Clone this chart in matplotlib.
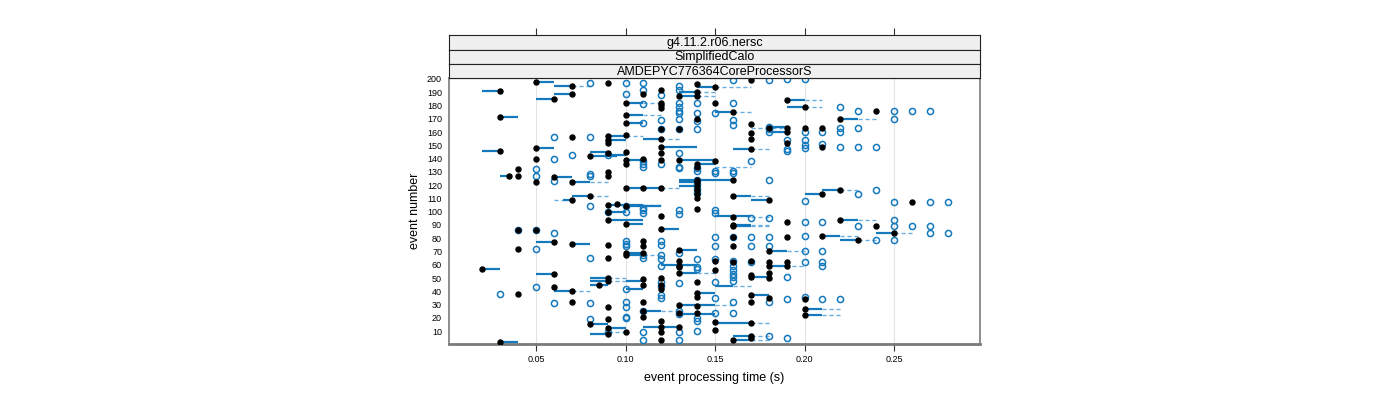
import matplotlib
matplotlib.use("Agg")
import matplotlib.pyplot as plt
import numpy as np

plt.rcParams['font.family'] = ['Liberation Sans', 'DejaVu Sans']

# ---------------- data ----------------
strip_labels = ["g4.11.2.r06.nersc", "SimplifiedCalo", "AMDEPYC776364CoreProcessorS"]
x_ticks = [0.05, 0.10, 0.15, 0.20, 0.25]
y_ticks = list(range(10, 201, 10))

dot_event = [198, 195, 197, 191, 189, 185, 171, 156, 157, 154, 152, 148, 146, 140, 142,
             132, 127, 127, 126, 130, 127, 122, 122, 112, 109, 105, 106, 94, 86, 86,
             77, 76, 75, 72, 65, 57, 53, 50, 48, 45, 43, 40, 38, 32, 28, 19, 15, 12, 8, 2,
             199, 196, 194, 192, 189, 190, 187, 187, 184, 182, 182, 180, 178, 182, 179,
             176, 175, 173, 170, 170, 167, 166, 162, 162, 158, 163, 159, 155, 163, 163,
             163, 160, 155, 149, 147, 152, 149, 145, 144, 144, 140, 139, 139, 139, 138,
             136, 134, 136, 124, 124, 122, 119, 116, 113, 110, 118, 118, 118, 112, 109,
             116, 113, 107, 104, 102, 97, 96, 100, 91, 90, 89, 87, 94, 92, 89, 84, 81,
             81, 82, 79, 78, 74, 74, 71, 69, 69, 70, 67, 62, 62, 59, 59, 56, 59, 63, 63,
             58, 62, 63, 54, 51, 54, 50, 52, 49, 45, 50, 45, 42, 47, 39, 36, 37, 35, 32,
             32, 30, 29, 34, 27, 22, 25, 24, 24, 21, 18, 17, 16, 13, 13, 11, 9, 9, 6, 5,
             3, 3]
dot_time = [0.05, 0.07, 0.09, 0.03, 0.07, 0.06, 0.03, 0.07, 0.09, 0.09, 0.09, 0.05, 0.03, 0.05, 0.08,
            0.04, 0.035, 0.04, 0.06, 0.09, 0.09, 0.05, 0.07, 0.08, 0.07, 0.09, 0.095, 0.09, 0.04, 0.05,
            0.06, 0.07, 0.09, 0.04, 0.09, 0.02, 0.06, 0.09, 0.09, 0.085, 0.06, 0.07, 0.04, 0.07, 0.09, 0.09, 0.08, 0.09, 0.09, 0.03,
            0.17, 0.14, 0.15, 0.12, 0.11, 0.14, 0.13, 0.14, 0.19, 0.10, 0.12, 0.12, 0.12, 0.15, 0.20,
            0.24, 0.16, 0.10, 0.22, 0.14, 0.10, 0.17, 0.12, 0.13, 0.10, 0.18, 0.17, 0.17, 0.19, 0.20,
            0.21, 0.19, 0.12, 0.12, 0.17, 0.19, 0.21, 0.10, 0.12, 0.09, 0.11, 0.10, 0.12, 0.13, 0.15,
            0.14, 0.14, 0.10, 0.14, 0.16, 0.14, 0.14, 0.14, 0.14, 0.14, 0.11, 0.12, 0.10, 0.16, 0.18,
            0.22, 0.21, 0.26, 0.10, 0.14, 0.12, 0.16, 0.09, 0.10, 0.16, 0.16, 0.12, 0.22, 0.19, 0.24, 0.25, 0.16,
            0.19, 0.21, 0.23, 0.11, 0.11, 0.16, 0.13, 0.10, 0.11, 0.18, 0.10, 0.18, 0.19, 0.19, 0.13, 0.15, 0.18, 0.15, 0.13,
            0.13, 0.16, 0.17, 0.13, 0.17, 0.18, 0.18, 0.17, 0.11, 0.11, 0.12, 0.12, 0.12, 0.14, 0.14, 0.14, 0.17, 0.18, 0.11,
            0.17, 0.13, 0.14, 0.20, 0.20, 0.20, 0.11, 0.13, 0.14, 0.11, 0.12, 0.15, 0.17, 0.12, 0.13, 0.15, 0.10, 0.12, 0.17, 0.17,
            0.12, 0.16]

circ_event = [197, 156, 156, 143, 143, 140, 132, 127, 123, 127, 128, 104, 100, 86, 86, 84, 72, 65,
              43, 38, 31, 31, 19, 9,
              197, 197, 192, 195, 192, 199, 199, 200, 200, 188, 189, 181, 182, 179, 176, 182, 182,
              179, 176, 176, 176, 176, 174, 174, 174, 170, 169, 170, 168, 169, 167, 165, 162, 162,
              162, 164, 162, 160, 163, 163, 160, 160, 160, 147, 154, 146, 154, 150, 148, 151, 149,
              149, 149, 144, 138, 136, 134, 136, 133, 138, 133, 131, 131, 129, 131, 129, 134, 124,
              124, 121, 117, 114, 113, 116, 108, 107, 107, 107, 104, 103, 101, 99, 101, 98, 101, 99,
              95, 95, 100, 94, 92, 92, 89, 89, 89, 89, 84, 84, 82, 79, 79, 81, 81, 81, 81, 78, 76,
              74, 78, 75, 74, 74, 74, 70, 70, 69, 67, 65, 67, 64, 64, 64, 63, 62, 62, 62, 59, 59,
              58, 57, 59, 56, 53, 51, 51, 42, 47, 44, 46, 47, 48, 37, 35, 35, 32, 36, 34, 34, 34,
              32, 28, 32, 25, 25, 23, 24, 24, 21, 20, 20, 18, 10, 9, 9, 6, 5, 3, 3]
circ_time = [0.08, 0.06, 0.08, 0.07, 0.09, 0.06, 0.05, 0.05, 0.06, 0.08, 0.08, 0.08, 0.09, 0.04, 0.05, 0.06, 0.05, 0.08,
             0.05, 0.03, 0.06, 0.08, 0.08, 0.09,
             0.10, 0.11, 0.11, 0.13, 0.13, 0.16, 0.18, 0.19, 0.20, 0.12, 0.10, 0.11, 0.13, 0.13, 0.13, 0.14, 0.16,
             0.22, 0.23, 0.25, 0.26, 0.27, 0.13, 0.14, 0.15, 0.25, 0.12, 0.13, 0.14, 0.16, 0.11, 0.16, 0.12, 0.13,
             0.14, 0.18, 0.18, 0.18, 0.22, 0.23, 0.20, 0.21, 0.22, 0.19, 0.19, 0.19, 0.20, 0.20, 0.20, 0.21, 0.22,
             0.23, 0.24, 0.13, 0.11, 0.11, 0.11, 0.12, 0.13, 0.17, 0.14, 0.14, 0.15, 0.15, 0.16, 0.16, 0.13, 0.14,
             0.18, 0.14, 0.14, 0.14, 0.23, 0.24, 0.20, 0.25, 0.27, 0.28, 0.10, 0.11, 0.11, 0.11, 0.13, 0.13, 0.15, 0.15,
             0.18, 0.17, 0.10, 0.25, 0.20, 0.21, 0.23, 0.25, 0.26, 0.27, 0.27, 0.28, 0.20, 0.24, 0.25, 0.15, 0.16, 0.17, 0.18, 0.10, 0.10,
             0.10, 0.12, 0.12, 0.15, 0.17, 0.18, 0.20, 0.21, 0.13, 0.11, 0.11, 0.12, 0.12, 0.14, 0.15, 0.16, 0.17, 0.20, 0.21, 0.21, 0.12,
             0.14, 0.14, 0.16, 0.16, 0.16, 0.16, 0.19, 0.10, 0.12, 0.12, 0.13, 0.15, 0.16, 0.12, 0.12, 0.15, 0.18, 0.20, 0.19, 0.21, 0.22,
             0.10, 0.10, 0.16, 0.11, 0.13, 0.13, 0.15, 0.16, 0.10, 0.10, 0.14, 0.14, 0.14, 0.11, 0.13, 0.18, 0.19, 0.11, 0.13]

seg_event = [198, 195, 191, 189, 185, 171, 148, 146, 142, 126, 127, 122, 112, 109, 94, 77, 76, 57, 53,
             50, 48, 45, 40, 15, 12, 8, 2,
             194, 190, 187, 184, 182, 179, 175, 173, 170, 167, 164, 160, 157, 154, 155, 149, 147, 145,
             143, 139, 139, 136, 124, 124, 122, 119, 118, 118, 112, 109, 116, 113, 105, 104, 100, 97,
             91, 90, 89, 87, 94, 84, 82, 79, 69, 71, 70, 67, 60, 59, 54, 51, 48, 42, 44, 39, 37, 30,
             27, 22, 25, 23, 16, 13, 6, 3]
seg_start = [0.05, 0.06, 0.02, 0.06, 0.05, 0.03, 0.05, 0.02, 0.08, 0.06, 0.03, 0.07, 0.07, 0.065, 0.09, 0.05, 0.07, 0.02, 0.05,
             0.08, 0.08, 0.08, 0.06, 0.08, 0.09, 0.08, 0.03,
             0.14, 0.13, 0.13, 0.19, 0.10, 0.19, 0.15, 0.10, 0.22, 0.10, 0.18, 0.18, 0.09, 0.09, 0.11, 0.12, 0.16, 0.08,
             0.09, 0.10, 0.13, 0.14, 0.13, 0.14, 0.13, 0.13, 0.10, 0.11, 0.16, 0.17, 0.21, 0.20, 0.09, 0.10, 0.09, 0.15,
             0.10, 0.16, 0.16, 0.12, 0.22, 0.24, 0.21, 0.22, 0.10, 0.13, 0.18, 0.10, 0.12, 0.18, 0.13, 0.17, 0.10, 0.10, 0.15, 0.14, 0.17, 0.13,
             0.20, 0.20, 0.11, 0.13, 0.15, 0.11, 0.16, 0.16]
seg_end = [0.06, 0.07, 0.03, 0.07, 0.06, 0.04, 0.06, 0.03, 0.095, 0.07, 0.035, 0.08, 0.08, 0.07, 0.11, 0.06, 0.08, 0.03, 0.06,
           0.09, 0.09, 0.09, 0.07, 0.09, 0.10, 0.09, 0.04,
           0.15, 0.14, 0.14, 0.20, 0.11, 0.20, 0.16, 0.11, 0.23, 0.11, 0.19, 0.19, 0.10, 0.10, 0.12, 0.14, 0.17, 0.09,
           0.10, 0.11, 0.15, 0.15, 0.14, 0.16, 0.14, 0.14, 0.11, 0.12, 0.17, 0.18, 0.22, 0.21, 0.11, 0.12, 0.10, 0.17,
           0.11, 0.17, 0.17, 0.13, 0.23, 0.25, 0.22, 0.23, 0.11, 0.14, 0.19, 0.11, 0.14, 0.19, 0.14, 0.18, 0.11, 0.11, 0.16, 0.15, 0.18, 0.15,
           0.21, 0.21, 0.12, 0.15, 0.17, 0.13, 0.17, 0.17]

dash_event = [195, 194, 190, 187, 184, 182, 179, 175, 173, 170, 163, 157, 155, 147, 134, 122, 112, 109,
              118, 112, 116, 105, 96, 90, 89, 94, 84, 82, 79, 70, 67, 60, 59, 54, 50, 48, 44, 40,
              30, 27, 22, 25, 16, 9, 6, 3]
dash_start = [0.07, 0.15, 0.14, 0.14, 0.20, 0.11, 0.20, 0.16, 0.11, 0.23, 0.17, 0.10, 0.12, 0.17, 0.15, 0.08, 0.08, 0.06,
              0.12, 0.17, 0.22, 0.11, 0.17, 0.17, 0.17, 0.23, 0.25, 0.22, 0.23, 0.19, 0.11, 0.13, 0.185, 0.14, 0.09, 0.09, 0.16, 0.07,
              0.15, 0.21, 0.21, 0.12, 0.17, 0.09, 0.17, 0.17]
dash_end = [0.08, 0.17, 0.15, 0.15, 0.21, 0.12, 0.21, 0.17, 0.12, 0.24, 0.19, 0.11, 0.13, 0.18, 0.17, 0.09, 0.09, 0.065,
            0.13, 0.18, 0.23, 0.12, 0.18, 0.18, 0.18, 0.24, 0.26, 0.23, 0.24, 0.20, 0.12, 0.14, 0.20, 0.15, 0.10, 0.10, 0.17, 0.08,
            0.16, 0.22, 0.22, 0.13, 0.18, 0.10, 0.18, 0.18]

# ---------------- figure ----------------
W, H = 1400, 400
fig = plt.figure(figsize=(W / 100, H / 100), dpi=100)

def fx(px):
    return px / W

def fy(py):
    return 1 - py / H

left, right, top, bottom = 449, 980, 78, 344
ax = fig.add_axes([fx(left), fy(bottom), fx(right - left), fy(top) - fy(bottom)])

blue = '#1479bd'
light = '#6aaee0'

for e, a, b in zip(dash_event, dash_start, dash_end):
    ax.plot([a, b], [e, e], color=light, lw=1.0, dashes=(3, 2), zorder=2)
for e, a, b in zip(seg_event, seg_start, seg_end):
    ax.plot([a, b], [e, e], color=blue, lw=1.6, solid_capstyle='butt', zorder=3)
ax.plot(circ_time, circ_event, 'o', mfc='none', mec=blue, ms=4.4, mew=1.1, zorder=4, linestyle='none')
ax.plot(dot_time, dot_event, 'o', color='black', ms=3.6, zorder=5, linestyle='none')

ax.set_xlim(0.0014, 0.298)
ax.set_ylim(0.3, 200.7)
for t in x_ticks:
    ax.axvline(t, color='#e4e4e4', lw=0.8, zorder=0)
ax.set_xticks(x_ticks)
ax.set_xticklabels([f"{t:.2f}" for t in x_ticks], fontsize=6.5)
ax.set_yticks(y_ticks)
ax.set_yticklabels([str(v) for v in y_ticks], fontsize=6.5)
ax.tick_params(axis='x', length=5, width=0.8, color='#333333', pad=3)
ax.tick_params(axis='y', length=0, pad=5)
for s in ax.spines.values():
    s.set_color('#7a7a7a')
    s.set_linewidth(1.2)
ax.spines['bottom'].set_linewidth(2)
ax.spines['top'].set_color('black')
ax.spines['top'].set_linewidth(0.8)

ax.set_xlabel("event processing time (s)", fontsize=9, labelpad=6)
ax.set_ylabel("event number", fontsize=9, labelpad=4)

# strips
strip_tops = [35, 49.5, 64]
for i, (lab, st) in enumerate(zip(strip_labels, strip_tops)):
    sb = st + 14.5 if i < 2 else top
    sax = fig.add_axes([fx(left), fy(sb), fx(right - left), fy(st) - fy(sb)])
    sax.set_facecolor('#f0f0f0')
    sax.set_xlim(ax.get_xlim())
    sax.set_yticks([])
    for s in sax.spines.values():
        s.set_color('#222222')
        s.set_linewidth(0.8)
    sax.text(0.5, 0.45, lab, transform=sax.transAxes, ha='center', va='center', fontsize=9)
    if i == 0:
        sax.set_xticks(x_ticks)
        sax.tick_params(axis='x', top=True, bottom=False, labeltop=False, labelbottom=False,
                        length=5, width=0.8, color='#333333')
    else:
        sax.set_xticks([])

fig.savefig("out.png", dpi=100)
